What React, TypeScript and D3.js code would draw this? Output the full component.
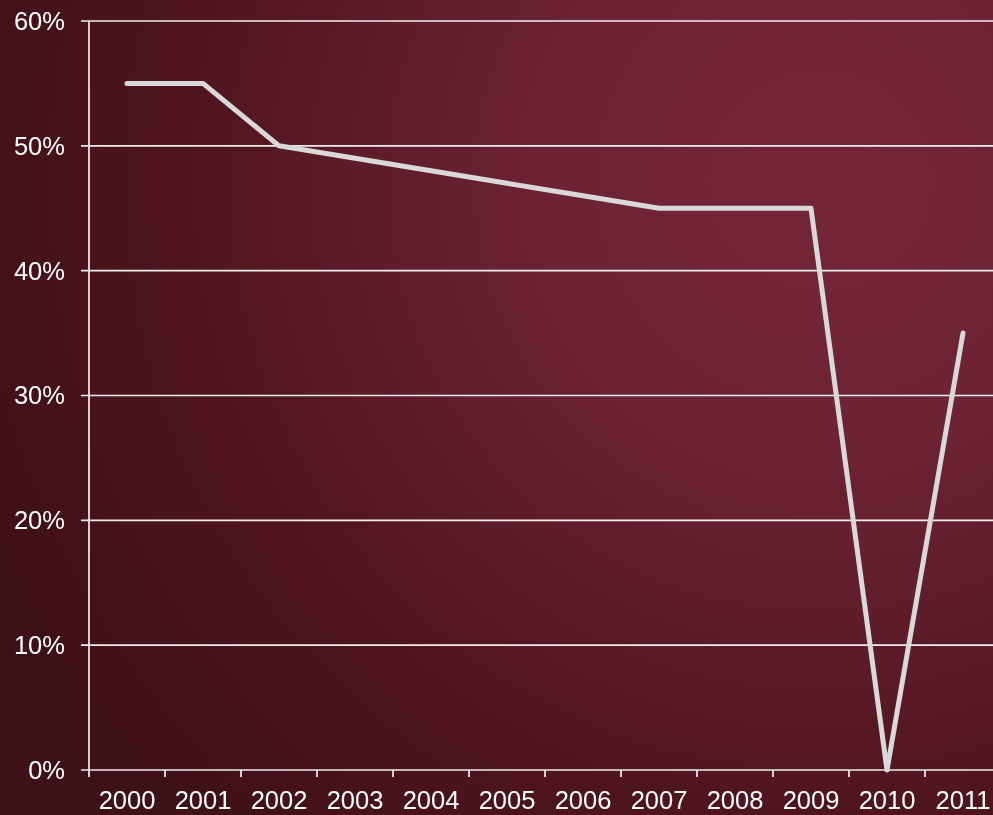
import React from "react";
import * as d3 from "d3";

const years = ["2000","2001","2002","2003","2004","2005","2006","2007","2008","2009","2010","2011"];
const values = [55, 55, 50, 49, 48, 47, 46, 45, 45, 45, 0, 35];
const yTicks = [0, 10, 20, 30, 40, 50, 60];

export default function App() {
  const W = 993, H = 815;
  const left = 89, top = 21, bottom = 770;
  const band = 76;
  const x = d3.scaleBand<string>().domain(years).range([left, left + band * years.length]).padding(0);
  const y = d3.scaleLinear().domain([0, 60]).range([bottom, top]);
  const line = d3.line<number>()
    .x((_, i) => (x(years[i]) as number) + x.bandwidth() / 2)
    .y((d) => y(d));
  const font = "'Liberation Sans', Arial, sans-serif";
  return (
    <svg width={W} height={H} style={{ position: "fixed", left: 0, top: 0, display: "block" }}>
      <defs>
        <radialGradient id="bg" gradientUnits="userSpaceOnUse" cx={820} cy={180} r={900} fx={820} fy={180}>
          <stop offset="0" stopColor="#742638" />
          <stop offset="0.3" stopColor="#6d2334" />
          <stop offset="0.7" stopColor="#4f151f" />
          <stop offset="1" stopColor="#3e1017" />
        </radialGradient>
      </defs>
      <rect x={0} y={0} width={W} height={H} fill="url(#bg)" />
      {yTicks.map((t) => (
        <g key={t}>
          <line x1={81} x2={W} y1={y(t)} y2={y(t)} stroke="#ffffff" strokeWidth={1.6} opacity={0.92} />
          <text x={65} y={y(t)} dy="0.35em" textAnchor="end" fill="#ffffff" fontFamily={font} fontSize={25.5}>{t}%</text>
        </g>
      ))}
      <line x1={left} x2={left} y1={top} y2={bottom} stroke="#ffffff" strokeWidth={1.6} />
      {years.map((yr) => (
        <line key={"t" + yr} x1={x(yr) as number} x2={x(yr) as number} y1={bottom} y2={bottom + 7} stroke="#ffffff" strokeWidth={1.6} />
      ))}
      {years.map((yr) => (
        <text key={yr} x={(x(yr) as number) + band / 2} y={809} textAnchor="middle" fill="#ffffff" fontFamily={font} fontSize={25.5}>{yr}</text>
      ))}
      <path d={line(values) || ""} fill="none" stroke="#d9d9d9" strokeWidth={5} strokeLinecap="round" strokeLinejoin="round" />
    </svg>
  );
}
